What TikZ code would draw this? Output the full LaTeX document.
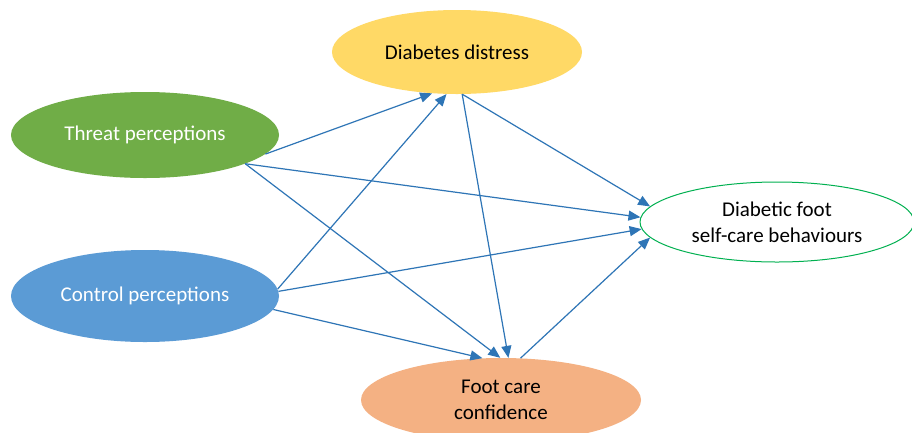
\documentclass[tikz,border=0pt]{standalone}
\usepackage{fontspec}
\setmainfont{Carlito}
\usetikzlibrary{shapes.geometric,arrows.meta}
\definecolor{cyel}{HTML}{FFD966}
\definecolor{cgrn}{HTML}{70AD47}
\definecolor{cblu}{HTML}{5B9BD5}
\definecolor{cora}{HTML}{F4B183}
\definecolor{cbor}{HTML}{00B050}
\definecolor{carr}{HTML}{2E75B6}
\tikzset{
  oval/.style={ellipse, inner sep=0pt, align=center, font=\fontsize{21}{26}\selectfont},
  link/.style={draw=carr, line width=1.2pt, -{Triangle[length=12pt,width=10pt]}}
}
\begin{document}
\begin{tikzpicture}[x=1pt,y=-1pt]
\clip (0,0) rectangle (912,432);
\useasboundingbox (0,0) rectangle (912,432);
\fill[white] (0,0) rectangle (912,432);
\node[oval, fill=cyel, minimum width=250pt, minimum height=84pt] (dd) at (457,52) {Diabetes distress};
\node[oval, fill=cgrn, text=white, minimum width=268pt, minimum height=86pt] (tp) at (145,135) {Threat perceptions};
\node[oval, fill=cblu, text=white, minimum width=268pt, minimum height=92pt] (cp) at (145,296) {Control perceptions};
\node[oval, draw=cbor, line width=1pt, fill=white, minimum width=274pt, minimum height=80pt] (dfb) at (777,222) {Diabetic foot\\self-care behaviours};
\node[oval, fill=cora, minimum width=280pt, minimum height=84pt] (fcc) at (501,400) {Foot care\\confidence};

\draw[link] (tp.-9) -- (dd.-121);
\draw[link] (cp.3) -- (dd.-104);
\draw[link] (tp.-16) -- (dfb.178);
\draw[link] (tp.-16) -- (fcc.91);
\draw[link] (cp.2) -- (dfb.-177.5);
\draw[link] (cp.-6) -- (fcc.114);
\draw[link] (dd.-83) -- (dfb.173);
\draw[link] (dd.-83) -- (fcc.80.5);
\draw[link] (fcc.65.7) -- (dfb.-173);
\end{tikzpicture}
\end{document}
